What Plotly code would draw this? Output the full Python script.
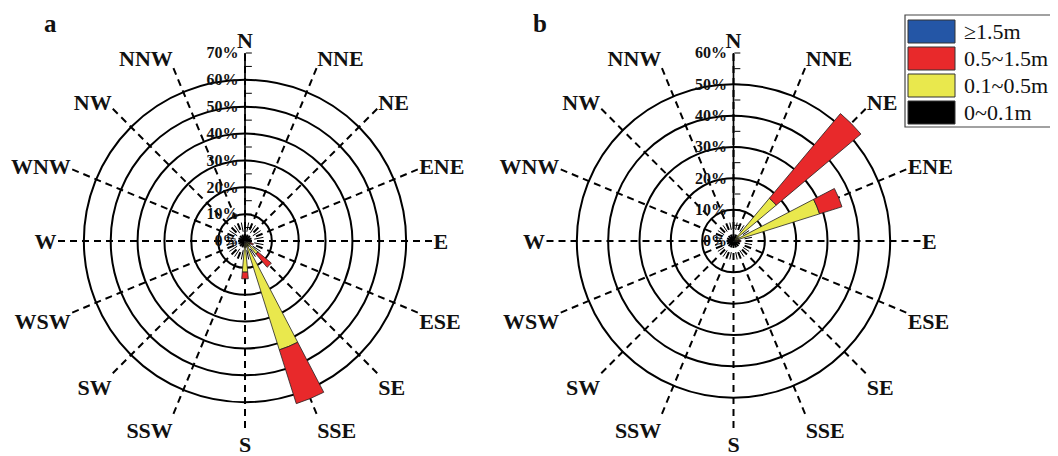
import plotly.graph_objects as go

# ---------------- data ----------------
directions = ["N", "NNE", "NE", "ENE", "E", "ESE", "SE", "SSE",
              "S", "SSW", "SW", "WSW", "W", "WNW", "NW", "NNW"]
bin_names = ["≥1.5m", "0.5~1.5m", "0.1~0.5m", "0~0.1m"]
bin_colors = ["#2456A6", "#E8292B", "#E9E84D", "#000000"]

# panel a (frequency %, per direction)
a_0_01   = [0, 0, 0, 0, 0, 0.5, 0.8, 1.0, 0.8, 0, 0, 0, 0, 0, 0, 0]
a_01_05  = [0, 0, 0, 0, 0, 1.5, 5.5, 41.5, 10.8, 0, 0, 0, 0, 0, 0, 0]
a_05_15  = [0, 0, 0, 0, 0, 1.3, 6.5, 21.0, 2.5, 0, 0, 0, 0, 0, 0, 0]
a_ge15   = [0] * 16

# panel b
b_0_01   = [0, 0, 0.8, 0.8, 0.6, 0, 0, 0, 0, 0, 0, 0, 0, 0, 0, 0]
b_01_05  = [0, 0, 17.0, 28.0, 0.8, 0, 0, 0, 0, 0, 0, 0, 0, 0, 0, 0]
b_05_15  = [0, 0, 35.3, 7.5, 1.0, 0, 0, 0, 0, 0, 0, 0, 0, 0, 0, 0]
b_ge15   = [0] * 16

a_rmax, a_circles = 70, [10, 20, 30, 40, 50, 60]
b_rmax, b_circles = 60, [10, 20, 30, 40, 50]
panel_labels = ["a", "b"]

# ---------------- geometry / style ----------------
# the page body has an 8px margin: the figure starts at (8, 8) in the window
OX, OY = 8, 8
W, H = 1058 - OX, 456 - OY
FONT = "Liberation Serif"


def px(x):
    return (x - OX) / W


def py(y):
    return 1 - (y - OY) / H


theta = [i * 360 / len(directions) for i in range(len(directions))]
mid_theta = [t + 180 / len(directions) for t in theta]
bar_width = 10

ydom = [py(429), py(53)]
a_xdom = [px(57), px(433)]
b_xdom = [px(545.5), px(921.5)]

fig = go.Figure()


def add_panel(grid_id, bar_id, rmax, series, inner_frac):
    # short intermediate dashes near the centre (grid polar, below bars)
    rr, tt = [], []
    for t in mid_theta:
        rr += [inner_frac[0] * rmax, inner_frac[1] * rmax, None]
        tt += [t, t, None]
    fig.add_trace(go.Scatterpolar(r=rr, theta=tt, mode="lines",
                                  line=dict(color="black", width=1.0),
                                  subplot=grid_id, showlegend=False,
                                  hoverinfo="skip"))
    # stacked bars, innermost class first
    for name, color, vals in series:
        fig.add_trace(go.Barpolar(r=vals, theta=theta, width=bar_width,
                                  name=name, subplot=bar_id,
                                  marker=dict(color=color,
                                              line=dict(color="#222", width=0.8)),
                                  showlegend=False))


series_a = [(bin_names[3], bin_colors[3], a_0_01),
            (bin_names[2], bin_colors[2], a_01_05),
            (bin_names[1], bin_colors[1], a_05_15),
            (bin_names[0], bin_colors[0], a_ge15)]
series_b = [(bin_names[3], bin_colors[3], b_0_01),
            (bin_names[2], bin_colors[2], b_01_05),
            (bin_names[1], bin_colors[1], b_05_15),
            (bin_names[0], bin_colors[0], b_ge15)]

add_panel("polar", "polar2", a_rmax, series_a, (0.05, 0.10))
add_panel("polar3", "polar4", b_rmax, series_b, (0.06, 0.10))


def grid_polar(xdom, rmax, circles):
    return dict(
        domain=dict(x=xdom, y=ydom), bgcolor="white",
        angularaxis=dict(rotation=90, direction="clockwise",
                         tickmode="array", tickvals=theta, ticktext=[""] * len(theta),
                         showticklabels=False, ticks="", showline=False,
                         showgrid=True, gridcolor="black", gridwidth=1.5,
                         griddash="7px,5px"),
        radialaxis=dict(range=[0, rmax], tickmode="array", tickvals=circles,
                        showticklabels=False, ticks="", showline=False,
                        showgrid=True, gridcolor="black", gridwidth=1.7),
    )


def bar_polar(xdom, rmax):
    tv = list(range(0, rmax + 1, 5))
    tt = [f"{v}%" if v % 10 == 0 else "" for v in tv]
    return dict(
        domain=dict(x=xdom, y=ydom), bgcolor="rgba(0,0,0,0)",
        barmode="stack", bargap=0,
        angularaxis=dict(rotation=90, direction="clockwise",
                         tickmode="array", tickvals=theta, ticktext=directions,
                         ticks="", showline=False, showgrid=False,
                         tickfont=dict(family=FONT, size=22, color="#111",
                                       weight="bold")),
        radialaxis=dict(range=[0, rmax], angle=90, side="counterclockwise",
                        tickmode="array", tickvals=tv, ticktext=tt,
                        ticks="inside", ticklen=6, tickwidth=1.4,
                        tickcolor="black", showline=True, linecolor="black",
                        linewidth=1.7, showgrid=False, tickangle=90,
                        tickfont=dict(family=FONT, size=16, color="#111",
                                      weight="bold")),
    )


# ---------------- custom legend (large swatches) ----------------
shapes, annotations = [], []
lx0, lx1, ly0, ly1 = 905, 1056, 15, 127
shapes.append(dict(type="rect", xref="paper", yref="paper",
                   x0=px(lx0), x1=px(lx1), y0=py(ly1), y1=py(ly0),
                   line=dict(color="#444", width=1.2), fillcolor="white"))
row_h = (ly1 - ly0 - 4) / len(bin_names)
for i, (nm, col) in enumerate(zip(bin_names, bin_colors)):
    top = ly0 + 4 + i * row_h
    shapes.append(dict(type="rect", xref="paper", yref="paper",
                       x0=px(908), x1=px(955),
                       y0=py(top + row_h - 3), y1=py(top + 1),
                       line=dict(color="#333", width=1), fillcolor=col))
    annotations.append(dict(text=nm, xref="paper", yref="paper",
                            x=px(962), y=py(top + row_h / 2 - 1),
                            xanchor="left", yanchor="middle", showarrow=False,
                            font=dict(family=FONT, size=22, color="#111")))

for lab, lx in zip(panel_labels, [50, 540]):
    annotations.append(dict(text=f"<b>{lab}</b>", xref="paper", yref="paper",
                            x=px(lx), y=py(23), xanchor="center",
                            yanchor="middle", showarrow=False,
                            font=dict(family=FONT, size=25, color="#111")))

fig.update_layout(
    width=W, height=H, margin=dict(l=0, r=0, t=0, b=0),
    paper_bgcolor="white", plot_bgcolor="white", showlegend=False,
    polar=grid_polar(a_xdom, a_rmax, a_circles),
    polar2=bar_polar(a_xdom, a_rmax),
    polar3=grid_polar(b_xdom, b_rmax, b_circles),
    polar4=bar_polar(b_xdom, b_rmax),
    shapes=shapes, annotations=annotations,
)

fig.write_html("out.html")
